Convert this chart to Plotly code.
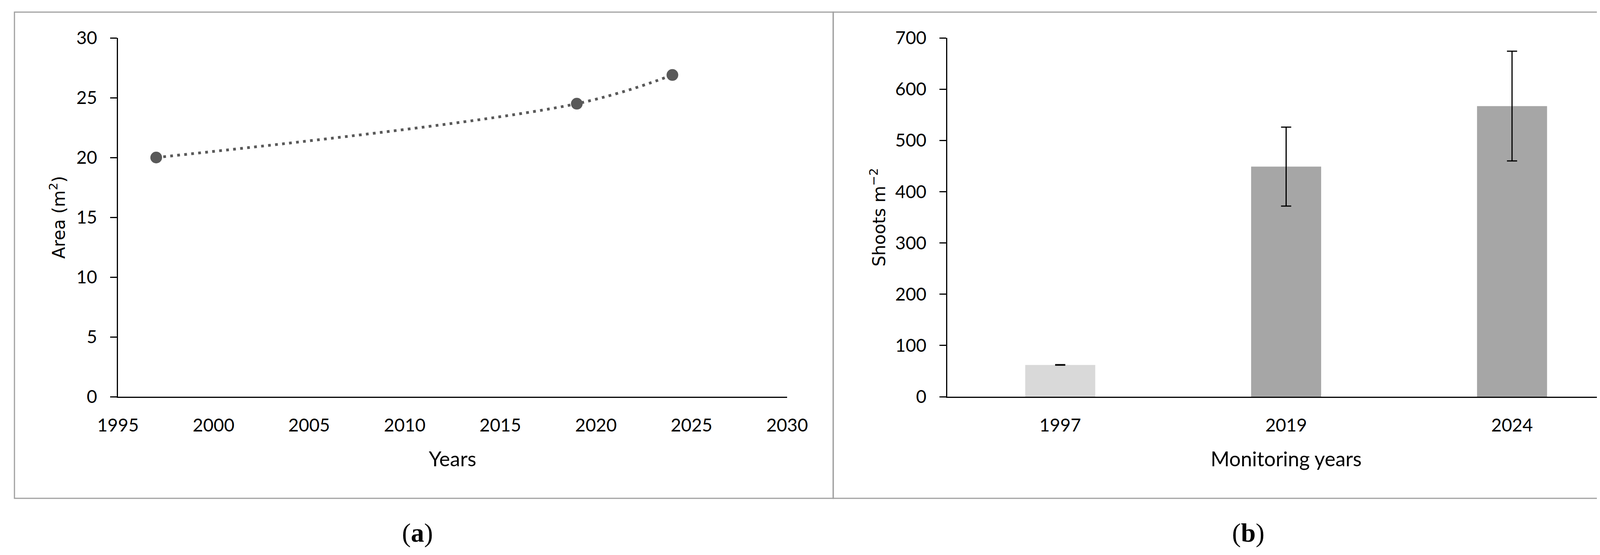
import plotly.graph_objects as go

# page body keeps an 8px margin, so the figure is drawn 16px smaller
W, H = 4233, 1404
OFF = 8

# panel (a): seagrass meadow area
area_years = [1997, 2019, 2024]
area_m2 = [20.0, 24.5, 26.9]

# panel (b): shoot density
dens_years = ['1997', '2019', '2024']
shoots = [62, 449, 567]
shoots_err = [0.5, 77, 107]
bar_colors = ['#d9d9d9', '#a6a6a6', '#a6a6a6']

tick_font = dict(family='Lato', size=46, color='black')
ttl_font = dict(family='DejaVu Sans', size=44, color='black')
xttl_font = dict(family='Lato', size=52, color='black')

def px(x):
    return (x - OFF) / W

def py(y):
    return 1 - (y - OFF) / H

fig = go.Figure()

fig.add_trace(go.Scatter(
    x=area_years, y=area_m2, mode='lines+markers',
    line=dict(color='#595959', width=7, dash='7px,11px', shape='spline'),
    marker=dict(color='#595959', size=30),
    xaxis='x', yaxis='y', showlegend=False))

fig.add_trace(go.Bar(
    x=dens_years, y=shoots, width=0.31,
    marker=dict(color=bar_colors, line=dict(width=0)),
    error_y=dict(type='data', array=shoots_err, color='black', thickness=3, width=13),
    xaxis='x2', yaxis='y2', showlegend=False))

yax = dict(showline=True, linecolor='black', linewidth=3, ticks='outside', ticklen=17,
           tickwidth=3, tickcolor='black', showgrid=False, zeroline=False,
           tickfont=tick_font, ticklabelstandoff=24, automargin=False)
xax = dict(showline=True, linecolor='black', linewidth=3, ticks='', showgrid=False,
           zeroline=False, tickfont=tick_font, ticklabelstandoff=31, automargin=False)

fig.update_layout(
    template='none',
    width=W, height=H,
    autosize=False,
    margin=dict(l=0, r=0, t=0, b=0, pad=0),
    paper_bgcolor='white', plot_bgcolor='white',
    font=dict(family='Lato', color='black'),
    xaxis=dict(xax, domain=[px(302), px(2015)], range=[1995, 2030], dtick=5,
               title=dict(text='Years', font=xttl_font, standoff=44),
               anchor='y'),
    yaxis=dict(yax, domain=[py(1015), py(97)], range=[0, 30], dtick=5,
               title=dict(text='Area (m<sup>2</sup>)', font=ttl_font, standoff=16),
               anchor='x'),
    xaxis2=dict(xax, domain=[px(2425), px(4160)], range=[-0.5, 2.5], type='category',
                title=dict(text='Monitoring years', font=xttl_font, standoff=44),
                anchor='y2'),
    yaxis2=dict(yax, domain=[py(1015), py(97)], range=[0, 700], dtick=100,
                title=dict(text='Shoots m<sup>\u22122</sup>', font=ttl_font, standoff=12),
                anchor='x2'),
    shapes=[
        dict(type='rect', xref='paper', yref='paper', x0=px(37), x1=px(2133),
             y0=py(1275), y1=py(31), line=dict(color='#a0a0a0', width=3)),
        dict(type='rect', xref='paper', yref='paper', x0=px(2133), x1=px(4227),
             y0=py(1275), y1=py(31), line=dict(color='#a0a0a0', width=3)),
    ],
    annotations=[
        dict(text='(<b>a</b>)', x=px(1068), y=py(1363), xref='paper', yref='paper',
             xanchor='center', yanchor='middle', showarrow=False,
             font=dict(family='Liberation Serif', size=68, color='black')),
        dict(text='(<b>b</b>)', x=px(3195), y=py(1363), xref='paper', yref='paper',
             xanchor='center', yanchor='middle', showarrow=False,
             font=dict(family='Liberation Serif', size=68, color='black')),
    ],
)

fig.write_html("out.html")
